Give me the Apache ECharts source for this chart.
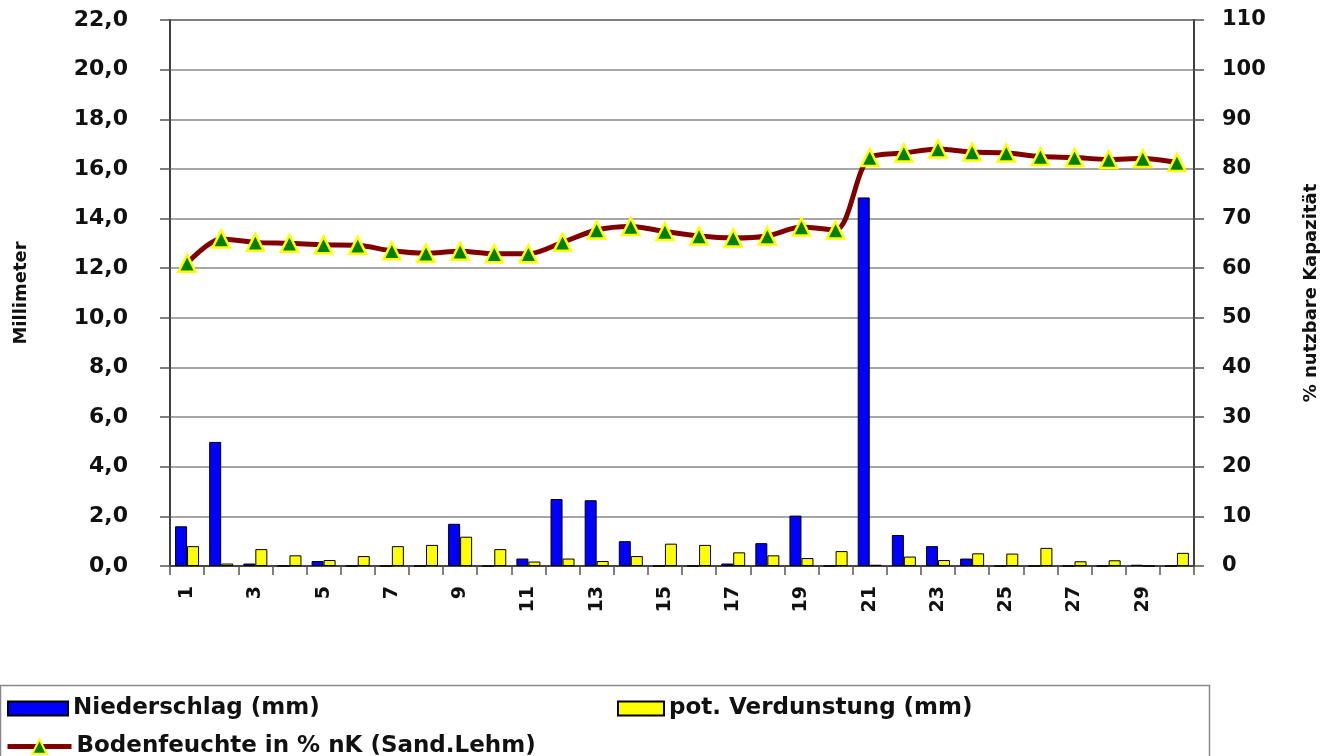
<!DOCTYPE html>
<html>
<head>
<meta charset="utf-8">
<script src="https://cdn.jsdelivr.net/npm/echarts@6/dist/echarts.min.js"></script>
<style>
html,body{margin:0;padding:0;background:#fff;}
#c{width:1338px;height:756px;}
</style>
</head>
<body>
<div id="c"></div>
<script>
const days = ['1','2','3','4','5','6','7','8','9','10','11','12','13','14','15','16','17','18','19','20','21','22','23','24','25','26','27','28','29','30'];
const niederschlag = [1.6,5.0,0.1,0,0.2,0,0,0,1.7,0,0.3,2.7,2.65,1.0,0,0,0.1,0.92,2.03,0,14.85,1.25,0.8,0.3,0,0,0,0,0.05,0];
const verdunstung = [0.8,0.1,0.68,0.43,0.24,0.4,0.8,0.85,1.18,0.68,0.18,0.3,0.2,0.4,0.9,0.85,0.55,0.43,0.32,0.6,0.05,0.38,0.24,0.51,0.5,0.73,0.19,0.23,0,0.53];
const bodenfeuchte = [61.0,65.9,65.2,65.0,64.7,64.6,63.5,63.0,63.4,62.9,62.9,65.2,67.7,68.4,67.4,66.5,66.1,66.5,68.3,67.7,82.3,83.2,84.0,83.4,83.2,82.5,82.3,81.9,82.1,81.3];
const leftTicks = {min:0, max:22, interval:2};
const rightTicks = {min:0, max:110, interval:10};

const FONT = '"DejaVu Sans", Verdana, sans-serif';
const chart = echarts.init(document.getElementById('c'), null, {renderer:'canvas'});
const axisLineStyle = {color:'#333', width:1.5};
const tickStyle = {color:'#555', width:1.5};
const legendText = {fontSize:23, fontWeight:'bold', color:'#111', fontFamily:FONT};
chart.setOption({
  animation:false,
  backgroundColor:'#fff',
  textStyle:{fontFamily:FONT},
  grid:{left:170, right:144, top:20, bottom:190, show:true, borderColor:'#333', borderWidth:1.5},
  xAxis:{
    type:'category', data:days, boundaryGap:true,
    axisLine:{lineStyle:axisLineStyle},
    axisTick:{show:true, alignWithLabel:false, interval:0, length:9, lineStyle:tickStyle},
    axisLabel:{interval:1, rotate:90, margin:20, fontSize:19, fontWeight:'bold', color:'#111', fontFamily:FONT}
  },
  yAxis:[
    {
      type:'value', min:leftTicks.min, max:leftTicks.max, interval:leftTicks.interval, position:'left',
      name:'Millimeter', nameLocation:'middle', nameRotate:90, nameGap:140,
      nameTextStyle:{fontSize:18, fontWeight:'bold', color:'#111', fontFamily:FONT},
      axisLine:{show:true, lineStyle:axisLineStyle},
      axisTick:{show:true, length:10, lineStyle:tickStyle},
      axisLabel:{margin:42, fontSize:22, fontWeight:'bold', color:'#111', fontFamily:FONT,
        formatter:v=>v.toFixed(1).replace('.',',')},
      splitLine:{show:true, lineStyle:{color:'#888', width:1.5}}
    },
    {
      type:'value', min:rightTicks.min, max:rightTicks.max, interval:rightTicks.interval, position:'right',
      name:'% nutzbare Kapazität', nameLocation:'middle', nameRotate:90, nameGap:108,
      nameTextStyle:{fontSize:18, fontWeight:'bold', color:'#111', fontFamily:FONT},
      axisLine:{show:true, lineStyle:axisLineStyle},
      axisTick:{show:true, length:10, lineStyle:tickStyle},
      axisLabel:{margin:28, fontSize:21, fontWeight:'bold', color:'#111', fontFamily:FONT},
      splitLine:{show:false}
    }
  ],
  legend:[
    {data:['Niederschlag (mm)'], left:2, top:692, itemWidth:60, itemHeight:14, itemGap:10, icon:'rect',
      textStyle:legendText},
    {data:['pot. Verdunstung (mm)'], left:612, top:692, itemWidth:46, itemHeight:14, icon:'rect',
      textStyle:legendText},
    {data:['Bodenfeuchte in % nK (Sand.Lehm)'], left:0, top:730, itemWidth:64, itemHeight:18,
      lineStyle:{color:'#800000', width:5},
      textStyle:legendText}
  ],
  graphic:[
    {type:'rect', left:-2, top:683, shape:{width:1209, height:90}, style:{fill:'none', stroke:'#888', lineWidth:1.5}, z:-1}
  ],
  series:[
    {name:'Niederschlag (mm)', type:'bar', yAxisIndex:0, data:niederschlag, barWidth:12, barGap:'0%',
      itemStyle:{color:'#0000ff', borderColor:'#000', borderWidth:1}},
    {name:'pot. Verdunstung (mm)', type:'bar', yAxisIndex:0, data:verdunstung, barWidth:12, barGap:'0%',
      itemStyle:{color:'#ffff00', borderColor:'#000', borderWidth:1}},
    {name:'Bodenfeuchte in % nK (Sand.Lehm)', type:'line', yAxisIndex:1, data:bodenfeuchte, smooth:0.3,
      symbol:'triangle', symbolSize:17,
      lineStyle:{color:'#800000', width:5},
      itemStyle:{color:'#008000', borderColor:'#ffff00', borderWidth:2.5}, z:5}
  ]
});
</script>
</body>
</html>
